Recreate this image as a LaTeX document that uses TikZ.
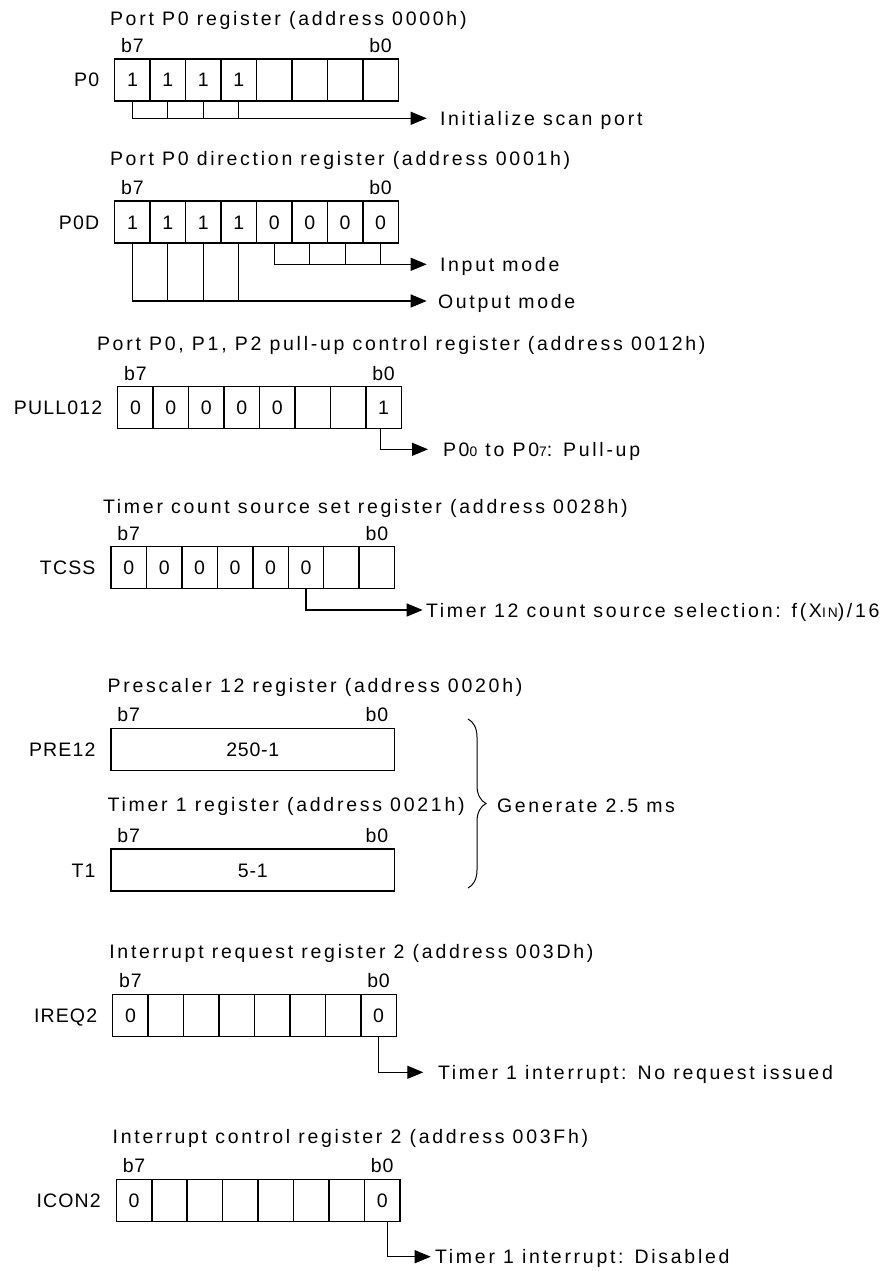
\documentclass[tikz,border=0pt]{standalone}
\usepackage{fontspec}
\setmainfont{Liberation Sans}
\newfontfamily\trk{Liberation Sans}[LetterSpace=14]
\newfontfamily\mtrk{Liberation Sans}[LetterSpace=6]
\newfontfamily\ltrk{Liberation Sans}[LetterSpace=4]
\usetikzlibrary{arrows.meta,decorations.pathreplacing}
\newcommand{\lowdig}[1]{{\fontsize{13.8}{14}\selectfont #1}}
\tikzset{
  every node/.style={inner sep=0pt, outer sep=0pt},
  cell/.style={draw, line width=1.5pt, minimum width=35.45pt, minimum height=42pt,
    text height=14pt, text depth=0pt, font=\ltrk\fontsize{19.5}{22}\selectfont},
  widecell/.style={draw, line width=1.5pt, minimum width=283.6pt, minimum height=42pt,
    text height=14pt, text depth=0pt, font=\ltrk\fontsize{19.5}{22}\selectfont},
  title/.style={anchor=base west, font=\trk\fontsize{19.5}{22}\selectfont},
  lab/.style={anchor=base east, font=\mtrk\fontsize{19.5}{22}\selectfont},
  bit/.style={anchor=base, font=\ltrk\fontsize{19.5}{22}\selectfont},
  note/.style={anchor=west, text height=14pt, text depth=0pt, font=\trk\fontsize{19.5}{22}\selectfont},
  conn/.style={line width=1.2pt},
  arr/.style={conn, -{Triangle[length=16pt, width=13pt]}},
}
% #1 name, #2 left, #3 top, #4 label, #5 values
\newcommand{\bitreg}[5]{%
  \foreach \v [count=\i] in {#5} {
    \node[cell] (#1-\i) at ({#2+(\i-0.5)*35.45},{#3+21}) {\v};
  }
  \node[lab] (#1-lab) at ({#2-15.5},{#3+28}) {#4};
  \node[bit] (#1-b7) at ({#2+17.7},{#3-6.5}) {b7};
  \node[bit] (#1-b0) at ({#2+283.6-17.7},{#3-6.5}) {b0};
}
\newcommand{\widereg}[5]{%
  \node[widecell] (#1-box) at ({#2+141.8},{#3+21}) {#5};
  \node[lab] (#1-lab) at ({#2-15.5},{#3+28}) {#4};
  \node[bit] (#1-b7) at ({#2+17.7},{#3-6.5}) {b7};
  \node[bit] (#1-b0) at ({#2+283.6-17.7},{#3-6.5}) {b0};
}
\begin{document}
\begin{tikzpicture}[x=1pt,y=-1pt]
\useasboundingbox (0,0) rectangle (890,1271);
\fill[white] (0,0) rectangle (890,1271);

% ---- P0
\node[title] (t-p0) at (110,26) {Port P0 register (address 0000h)};
\bitreg{p0}{114.7}{59}{P0}{1,1,1,1,{},{},{},{}}
\coordinate (p0-tip) at (426.7,118.3);
\draw[arr] (p0-1.south) |- (p0-tip);
\foreach \k in {2,3,4} \draw[conn] (p0-\k.south) -- (p0-\k.south |- p0-tip);
\node[note] (p0-note) at (440,118.3) {Initialize scan port};

% ---- P0D
\node[title] (t-pd) at (110,165.7) {Port P0 direction register (address 0001h)};
\bitreg{pd}{114.7}{201}{P0D}{1,1,1,1,0,0,0,0}
\coordinate (pd-in) at (426.7,264.3);
\coordinate (pd-out) at (426.7,301);
\draw[arr] (pd-5.south) |- (pd-in);
\foreach \k in {6,7,8} \draw[conn] (pd-\k.south) -- (pd-\k.south |- pd-in);
\draw[arr] (pd-1.south) |- (pd-out);
\foreach \k in {2,3,4} \draw[conn] (pd-\k.south) -- (pd-\k.south |- pd-out);
\node[note] (pd-innote) at (440,264.3) {Input mode};
\node[note] (pd-outnote) at (438,301) {Output mode};

% ---- PULL012
\node[title] (t-pu) at (97,350) {Port P0, P1, P2 pull-up control register (address 0012h)};
\bitreg{pu}{117.7}{386.7}{PULL012}{0,0,0,0,0,{},{},1}
\coordinate (pu-tip) at (428,449.3);
\draw[arr] ([xshift=-3pt]pu-8.south) |- (pu-tip);
\node[note] (pu-note) at (443,449.3) {P0\lowdig{0} to P0\lowdig{7}: Pull-up};

% ---- TCSS
\node[title] (t-tc) at (103,513.3) {Timer count source set register (address 0028h)};
\bitreg{tc}{111}{546.7}{TCSS}{0,0,0,0,0,0,{},{}}
\coordinate (tc-tip) at (422.7,610);
\draw[arr] (tc-6.south) |- (tc-tip);
\node[note] (tc-note) at (426,610) {Timer 12 count source selection: f(X\lowdig{IN})/16};

% ---- PRE12 and T1
\node[title] (t-pre) at (107.7,692.7) {Prescaler 12 register (address 0020h)};
\widereg{pre}{111}{728.3}{PRE12}{250-1}
\node[title] (t-t1) at (107.7,811.7) {Timer 1 register (address 0021h)};
\widereg{t1}{111}{849}{T1}{5-1}
\coordinate (br-top) at (468,719);
\coordinate (br-bot) at (468,888);
\draw[line width=1pt, decorate, decoration={brace, amplitude=18pt}] (br-top) -- (br-bot);
\node[note] (gen-note) at (497,805) {Generate 2.5 ms};

% ---- IREQ2
\node[title] (t-ir) at (109.3,958.3) {Interrupt request register 2 (address 003Dh)};
\bitreg{ir}{112.7}{994.3}{IREQ2}{0,{},{},{},{},{},{},0}
\coordinate (ir-tip) at (423.3,1072.3);
\draw[arr] (ir-8.south) |- (ir-tip);
\node[note] (ir-note) at (438,1072.3) {Timer 1 interrupt: No request issued};

% ---- ICON2
\node[title] (t-ic) at (112.7,1143.3) {Interrupt control register 2 (address 003Fh)};
\bitreg{ic}{116.3}{1179.3}{ICON2}{0,{},{},{},{},{},{},0}
\coordinate (ic-tip) at (430.7,1256.7);
\draw[arr] ([xshift=5pt]ic-8.south) |- (ic-tip);
\node[note] (ic-note) at (435,1256.7) {Timer 1 interrupt: Disabled};
\end{tikzpicture}
\end{document}
